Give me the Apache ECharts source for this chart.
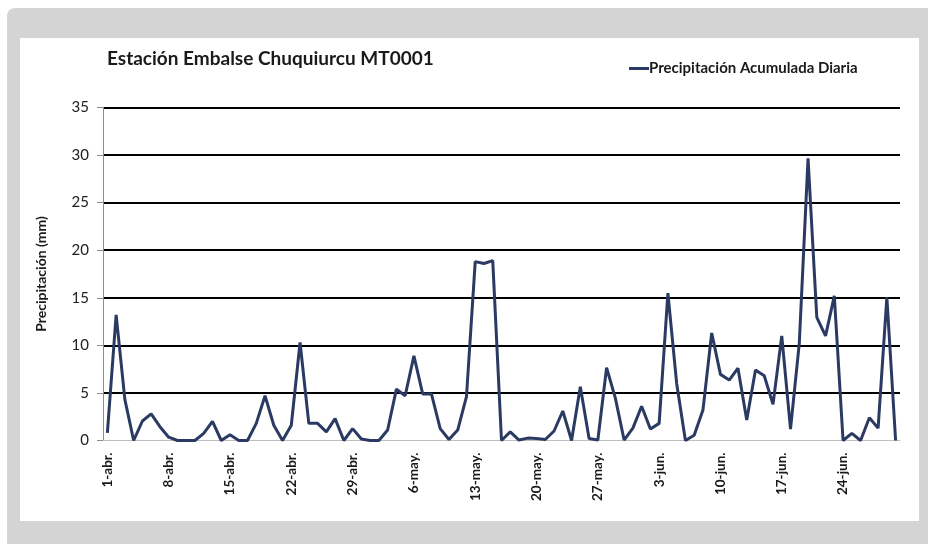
<!DOCTYPE html>
<html>
<head>
<meta charset="utf-8">
<script src="https://cdn.jsdelivr.net/npm/echarts@6/dist/echarts.min.js"></script>
<style>
  html, body { margin: 0; padding: 0; background: #fff; }
  #frame { position: absolute; left: 7px; top: 8px; width: 921px; height: 536px; background: #d4d4d4; border-radius: 8px 0 0 0; }
  #panel { position: absolute; left: 20px; top: 38px; width: 899px; height: 483px; background: #fff; }
  #chart { position: absolute; left: 0; top: 0; width: 928px; height: 544px; }
</style>
</head>
<body>
<div id="frame"></div>
<div id="panel"></div>
<div id="chart"></div>
<script>
const months = [['abr.', 30], ['may.', 31], ['jun.', 30]]
const days = []
months.forEach(m => { for (let d = 1; d <= m[1]; d++) days.push(d + '-' + m[0]) })

// precipitación diaria (mm), 1-abr. .. 30-jun.
const precipAbr = [0.8, 13.2, 4.3, 0, 2.05, 2.8, 1.45, 0.35, 0, 0,
  0, 0.75, 2.0, 0, 0.6, 0, 0, 1.8, 4.7, 1.6,
  0, 1.6, 10.3, 1.8, 1.8, 0.9, 2.3, 0, 1.25, 0.15]
const precipMay = [0, 0, 1.1, 5.4, 4.7, 8.9, 4.9, 4.9, 1.25, 0.1,
  1.1, 4.6, 18.8, 18.6, 18.9, 0, 0.9, 0.05, 0.25, 0.2,
  0.1, 1.0, 3.1, 0, 5.65, 0.2, 0.05, 7.65, 4.45, 0.05, 1.3]
const precipJun = [3.6, 1.2, 1.8, 15.5, 6.0, 0, 0.55, 3.2, 11.3, 6.95,
  6.35, 7.6, 2.15, 7.4, 6.8, 3.8, 11.0, 1.2, 10.2, 29.65,
  12.95, 11.0, 15.2, 0, 0.75, 0, 2.4, 1.3, 15.05, 0]
const precip = precipAbr.concat(precipMay, precipJun)

const yTicks = [0, 35, 5]
const font = 'Lato, "Open Sans", sans-serif'

const chart = echarts.init(document.getElementById('chart'))
chart.setOption({
  backgroundColor: 'transparent',
  animation: false,
  textStyle: { fontFamily: font },
  title: {
    text: 'Estación Embalse Chuquiurcu MT0001',
    left: 102,
    top: 44,
    textStyle: { fontSize: 19, fontWeight: 'bold', color: '#1a1a1a', fontFamily: font }
  },
  legend: {
    left: 629,
    top: 61,
    padding: 0,
    icon: 'rect',
    itemWidth: 20,
    itemHeight: 3,
    itemGap: 2,
    textStyle: { fontSize: 15, fontWeight: 'bold', color: '#1a1a1a', padding: [0, 0, 0, -5] },
    data: ['Precipitación Acumulada Diaria']
  },
  grid: { left: 103, right: 28, top: 107.5, bottom: 103.5 },
  xAxis: {
    type: 'category',
    boundaryGap: true,
    data: days,
    axisLine: { lineStyle: { color: '#bfbfbf', width: 1 } },
    axisTick: { interval: (i) => i % 7 === 0, length: 6, lineStyle: { color: '#bfbfbf' } },
    axisLabel: {
      interval: (i) => i % 7 === 0,
      rotate: 90,
      margin: 12,
      fontSize: 13.5,
      fontWeight: 'bold',
      color: '#1a1a1a'
    },
    splitLine: { show: false }
  },
  yAxis: {
    type: 'value',
    min: yTicks[0],
    max: yTicks[1],
    interval: yTicks[2],
    name: 'Precipitación (mm)',
    nameLocation: 'middle',
    nameGap: 55,
    nameTextStyle: { fontSize: 14, fontWeight: 'bold', color: '#1a1a1a' },
    axisLine: { show: true, lineStyle: { color: '#8c8c8c', width: 1 } },
    axisTick: { show: true, length: 6, lineStyle: { color: '#8c8c8c' } },
    axisLabel: { fontSize: 15, color: '#222', margin: 14 },
    splitLine: {
      lineStyle: { color: ['transparent', '#000', '#000', '#000', '#000', '#000', '#000', '#000'], width: 2 }
    }
  },
  series: [{
    name: 'Precipitación Acumulada Diaria',
    type: 'line',
    data: precip,
    symbol: 'none',
    lineStyle: { color: '#2b3a62', width: 3 },
    itemStyle: { color: '#2b3a62' }
  }]
})
</script>
</body>
</html>
